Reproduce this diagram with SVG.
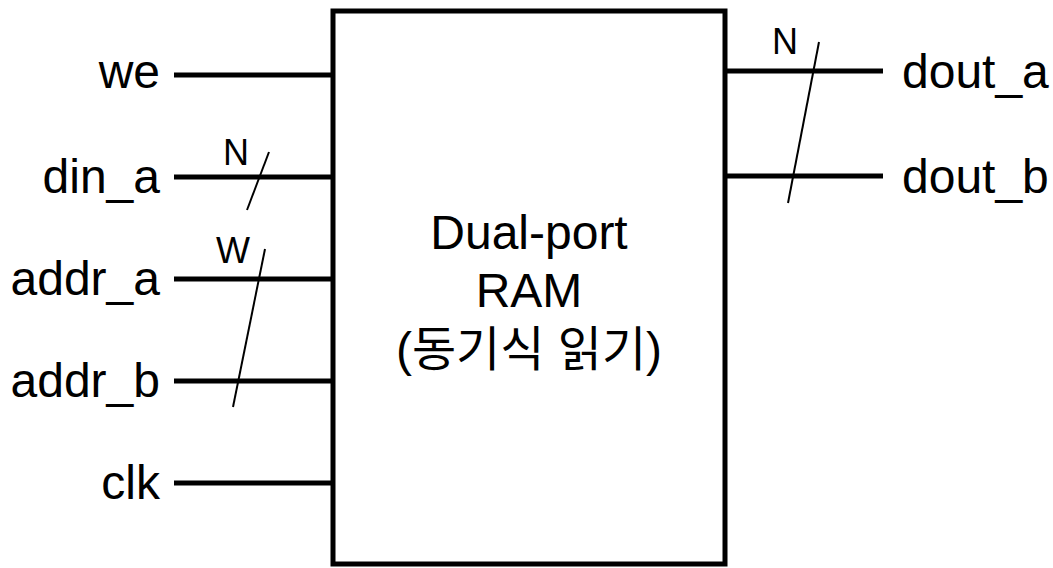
<svg xmlns="http://www.w3.org/2000/svg" width="1053" height="568" viewBox="0 0 1053 568">
<style>
.lbl{font-family:"Liberation Sans",Arial,sans-serif;font-size:48px;fill:#000}
.bus{font-family:"Liberation Sans",Arial,sans-serif;font-size:36px;fill:#000}
.ctr{font-family:"Liberation Sans","Noto Sans CJK KR",sans-serif;font-size:48px;fill:#000;text-anchor:middle}
.w{stroke:#000;stroke-width:5;fill:none}
.sl{stroke:#000;stroke-width:2;fill:none}
</style>
<rect width="1053" height="568" fill="#fff"/>
<g id="ram">
<rect x="333" y="11" width="392" height="553" class="w"/>
<text class="ctr" x="529" y="249">Dual-port</text>
<text class="ctr" x="529" y="307">RAM</text>
<text class="ctr" x="529" y="366">(동기식 읽기)</text>
</g>
<g id="connectors">
<line class="w" x1="174" y1="75" x2="333" y2="75"/>
<line class="w" x1="174" y1="177" x2="333" y2="177"/>
<line class="w" x1="174" y1="279" x2="333" y2="279"/>
<line class="w" x1="174" y1="381" x2="333" y2="381"/>
<line class="w" x1="174" y1="483" x2="333" y2="483"/>
<line class="w" x1="725" y1="71" x2="883" y2="71"/>
<line class="w" x1="725" y1="176" x2="883" y2="176"/>
<line class="sl" x1="269" y1="152" x2="247" y2="210"/>
<line class="sl" x1="265" y1="249" x2="233" y2="407"/>
<line class="sl" x1="819" y1="42" x2="788" y2="203"/>
</g>
<g id="port-we"><text class="lbl" x="160" y="88" text-anchor="end">we</text></g>
<g id="port-din_a"><text class="lbl" x="160" y="193" text-anchor="end">din_a</text><text class="bus" x="223" y="165">N</text></g>
<g id="port-addr_a"><text class="lbl" x="160" y="295" text-anchor="end">addr_a</text><text class="bus" x="216" y="263">W</text></g>
<g id="port-addr_b"><text class="lbl" x="160" y="397" text-anchor="end">addr_b</text></g>
<g id="port-clk"><text class="lbl" x="160" y="499" text-anchor="end">clk</text></g>
<g id="port-dout_a"><text class="lbl" x="902" y="88">dout_a</text><text class="bus" x="772" y="54">N</text></g>
<g id="port-dout_b"><text class="lbl" x="902" y="193">dout_b</text></g>
</svg>
